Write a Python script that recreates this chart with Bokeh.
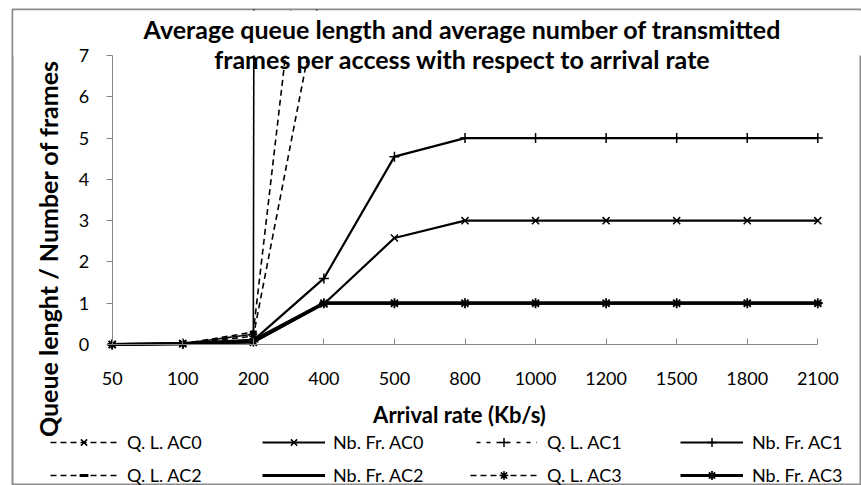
from bokeh.plotting import figure
from bokeh.models import (Range1d, FixedTicker, Label, Legend, LegendItem, BoxAnnotation,
                          ColumnDataSource)
from bokeh.embed import file_html
from bokeh.resources import INLINE
import math

# ---------------- data ----------------
rates = ["50", "100", "200", "400", "500", "800", "1000", "1200", "1500", "1800", "2100"]

ql_ac0 = [0.0, 0.02, 0.25, 900, 1500, 2000, 2300, 2500, 2700, 2800, 2900]
ql_ac1 = [0.0, 0.02, 0.25, 1100, 1700, 2200, 2500, 2700, 2900, 3000, 3100]
ql_ac2 = [0.0, 0.02, 0.30, 15, 40, 60, 70, 80, 90, 95, 100]
ql_ac3 = [0.0, 0.02, 0.20, 9, 30, 50, 60, 70, 80, 85, 90]

nb_ac0 = [0.0, 0.02, 0.05, 0.98, 2.58, 3, 3, 3, 3, 3, 3]
nb_ac1 = [0.0, 0.02, 0.10, 1.60, 4.55, 5, 5, 5, 5, 5, 5]
nb_ac2 = [0.0, 0.02, 0.10, 1.00, 1.00, 1, 1, 1, 1, 1, 1]
nb_ac3 = [0.0, 0.02, 0.07, 1.00, 1.00, 1, 1, 1, 1, 1, 1]

y_ticks = [0, 1, 2, 3, 4, 5, 6, 7]

title_1 = "Average queue length and average number of transmitted"
title_2 = "frames per access with respect to arrival rate"
x_title = "Arrival rate (Kb/s)"
y_title = "Queue lenght / Number of frames"

# ---------------- layout (pixels) ----------------
W, H = 861, 485
CL, CT = 12, 9                                   # chart-area border (left, top)
PL, PR, PT, PB = 111.7, 817.3, 55.0, 344.0       # plot area
xs = list(range(len(rates)))
YMAX = y_ticks[-1]
DX = (PR - PL) / (len(rates) - 1)
DY = (PB - PT) / YMAX

def X(px):
    return (px - PL) / DX

def Y(py):
    return (PB - py) / DY

p = figure(width=W, height=H, output_backend="svg", toolbar_location=None,
           x_range=Range1d(X(CL), X(W)), y_range=Range1d(Y(H), Y(CT)),
           min_border_left=CL, min_border_top=CT, min_border_right=0,
           min_border_bottom=0, title=None)
p.background_fill_color = "white"
p.border_fill_color = "white"
p.outline_line_color = "#8c8c8c"
p.outline_line_width = 2
p.xgrid.visible = False
p.ygrid.visible = False

FONT = "Lato"
AX = "#868686"

xa = p.xaxis[0]
xa.fixed_location = 0
xa.bounds = (0, len(rates) - 1)
xa.ticker = FixedTicker(ticks=xs)
xa.major_label_overrides = {i: r for i, r in zip(xs, rates)}
xa.major_tick_in = 6
xa.major_tick_out = 0
xa.minor_tick_line_color = None
xa.axis_line_color = AX
xa.major_tick_line_color = AX
xa.major_label_standoff = 27
xa.major_label_text_font = FONT
xa.major_label_text_font_size = "18px"
xa.major_label_text_color = "black"
xa.level = "overlay"

ya = p.yaxis[0]
ya.fixed_location = 0
ya.bounds = (0, YMAX)
ya.ticker = FixedTicker(ticks=y_ticks)
ya.major_tick_in = 0
ya.major_tick_out = 6
ya.minor_tick_line_color = None
ya.axis_line_color = AX
ya.major_tick_line_color = AX
ya.major_label_standoff = 17
ya.major_label_text_font = FONT
ya.major_label_text_font_size = "18px"
ya.major_label_text_color = "black"
ya.level = "overlay"

# ---------------- series ----------------
DASH = "6 4"
DASH_C = "0 6 4 0"   # complementary phase: two coincident dashed lines read as one solid
series = [
    ("Q. L. AC0", ql_ac0, DASH, 1.6, "x", 8, 1.5),
    ("Nb. Fr. AC0", nb_ac0, "solid", 2.2, "x", 10, 1.5),
    ("Q. L. AC1", ql_ac1, DASH_C, 1.6, "cross", 8, 1.5),
    ("Nb. Fr. AC1", nb_ac1, "solid", 2.2, "cross", 10, 1.5),
    ("Q. L. AC2", ql_ac2, DASH, 1.6, "dash", 7, 3),
    ("Nb. Fr. AC2", nb_ac2, "solid", 3.2, "dash", 8, 3),
    ("Q. L. AC3", ql_ac3, DASH, 1.6, "asterisk", 8, 1.5),
    ("Nb. Fr. AC3", nb_ac3, "solid", 3.2, "asterisk", 10, 1.8),
]

items = {}
for name, vals, dash, lw, mk, ms, mlw in series:
    src = ColumnDataSource(dict(x=xs, y=vals))
    r_line = p.line("x", "y", source=src, line_color="black", line_width=lw,
                    line_dash=dash)
    r_mk = p.scatter("x", "y", source=src, marker=mk, size=ms, line_color="black",
                     fill_color="black", line_width=mlw)
    items[name] = LegendItem(label=name, renderers=[r_line, r_mk])

# white mask above the plot area (clips the lines at the top of the plot area),
# kept inside the chart border
p.add_layout(BoxAnnotation(bottom=YMAX, top=Y(CT + 1), left=X(CL + 1), right=X(W + 50),
                           fill_color="white", fill_alpha=1, line_color=None))

# legend: 4 columns x 2 rows
columns = [
    (["Q. L. AC0", "Q. L. AC2"], 50, 67, 10),
    (["Nb. Fr. AC0", "Nb. Fr. AC2"], 262, 63, 8),
    (["Q. L. AC1", "Q. L. AC3"], 470, 67, 10),
    (["Nb. Fr. AC1", "Nb. Fr. AC3"], 680, 63, 9),
]
for names, lx, gw, st in columns:
    lg = Legend(items=[items[n] for n in names], orientation="vertical",
                location=(lx - CL, -1),
                glyph_width=gw, glyph_height=22, label_height=22,
                label_standoff=st, spacing=11, padding=0, margin=0,
                label_text_font=FONT, label_text_font_size="18px",
                label_text_color="black",
                background_fill_alpha=0, border_line_color=None)
    p.add_layout(lg, "center")

# ---------------- texts ----------------
def lab(px, py, text, size, angle=0.0):
    p.add_layout(Label(x=X(px), y=Y(py), text=text, text_font=FONT, text_font_size=size,
                       text_font_style="bold", text_color="black",
                       text_align="center", text_baseline="middle", angle=angle))

lab(462, 28, title_1, "25px")
lab(462, 58, title_2, "25px")
lab(459, 414, x_title, "22px")
lab(47, 248, y_title, "25px", angle=math.pi / 2)

open("out.html", "w").write(file_html(p, INLINE))
